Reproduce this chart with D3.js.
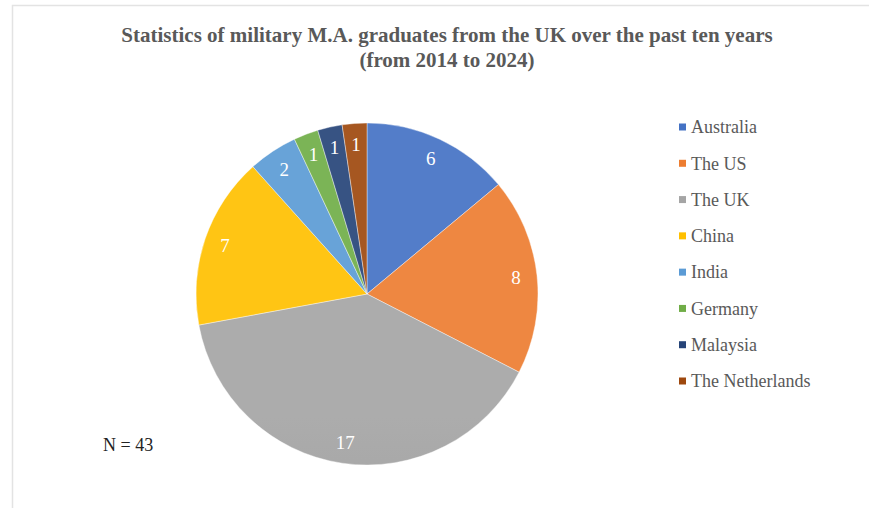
<!DOCTYPE html>
<html>
<head>
<meta charset="utf-8">
<script src="https://cdn.jsdelivr.net/npm/d3@7"></script>
<style>
html,body{margin:0;padding:0;background:#fff;}
svg{display:block;}
svg text{font-family:"Liberation Serif","Times New Roman",Times,"DejaVu Serif",serif;}
</style>
</head>
<body>
<svg id="chart" width="869" height="508"></svg>
<script>
const categories = ["Australia", "The US", "The UK", "China", "India", "Germany", "Malaysia", "The Netherlands"];
const values = [6, 8, 17, 7, 2, 1, 1, 1];
const colors = ["#4472C4", "#ED7D31", "#A5A5A5", "#FFC000", "#5B9BD5", "#70AD47", "#264478", "#9E480E"];
const titleLines = ["Statistics of military M.A. graduates from the UK over the past ten years", "(from 2014 to 2024)"];
const noteText = "N = 43";

const svg = d3.select("#chart");

// chart area border
svg.append("rect").attr("x", 12.5).attr("y", 5.5).attr("width", 900).attr("height", 520)
  .attr("fill", "#fff").attr("stroke", "#e3e3e3").attr("stroke-width", 1.5);

// title
const title = svg.append("text").attr("text-anchor", "middle")
  .attr("font-weight", "bold").attr("font-size", 21).attr("fill", "#595959");
titleLines.forEach((t, i) => {
  title.append("tspan").attr("x", 447).attr("y", 42 + i * 25).text(t);
});

const cx = 367, cy = 294, r = 171;
const color = d3.scaleOrdinal().domain(categories).range(colors);

const defs = svg.append("defs");
categories.forEach((c, i) => {
  const base = d3.color(colors[i]);
  const g = defs.append("linearGradient").attr("id", "grad" + i)
    .attr("gradientUnits", "userSpaceOnUse")
    .attr("x1", 0).attr("y1", cy - r).attr("x2", 0).attr("y2", cy + r);
  g.append("stop").attr("offset", "0%").attr("stop-color", d3.interpolateRgb(base, "#fff")(0.08));
  g.append("stop").attr("offset", "100%").attr("stop-color", base.darker(0.3));
});

const pie = d3.pie().sort(null).value(d => d.v);
const data = categories.map((c, i) => ({ c, v: values[i], i }));
const arcs = pie(data);
const arc = d3.arc().innerRadius(0).outerRadius(r);
const labelArc = d3.arc().innerRadius(150).outerRadius(150);

const gPie = svg.append("g").attr("transform", `translate(${cx},${cy})`);
gPie.selectAll("path").data(arcs).enter().append("path")
  .attr("d", arc)
  .attr("fill", d => `url(#grad${d.data.i})`)
  .attr("stroke", "#fff").attr("stroke-width", 0.4);

gPie.selectAll("text").data(arcs).enter().append("text")
  .attr("transform", d => `translate(${labelArc.centroid(d)})`)
  .attr("text-anchor", "middle").attr("dy", "0.35em")
  .attr("font-size", 19).attr("fill", "#fff")
  .text(d => d.data.v);

// legend
const legend = svg.append("g");
const ly = d3.scalePoint().domain(categories).range([127, 381]);
categories.forEach(c => {
  legend.append("rect").attr("x", 679).attr("y", ly(c) - 3.5).attr("width", 7).attr("height", 7).attr("fill", color(c));
  legend.append("text").attr("x", 691).attr("y", ly(c)).attr("dy", "0.35em")
    .attr("font-size", 18).attr("fill", "#595959").text(c);
});

// note
svg.append("text").attr("x", 103).attr("y", 451)
  .attr("font-size", 18).attr("fill", "#222").text(noteText);
</script>
</body>
</html>
